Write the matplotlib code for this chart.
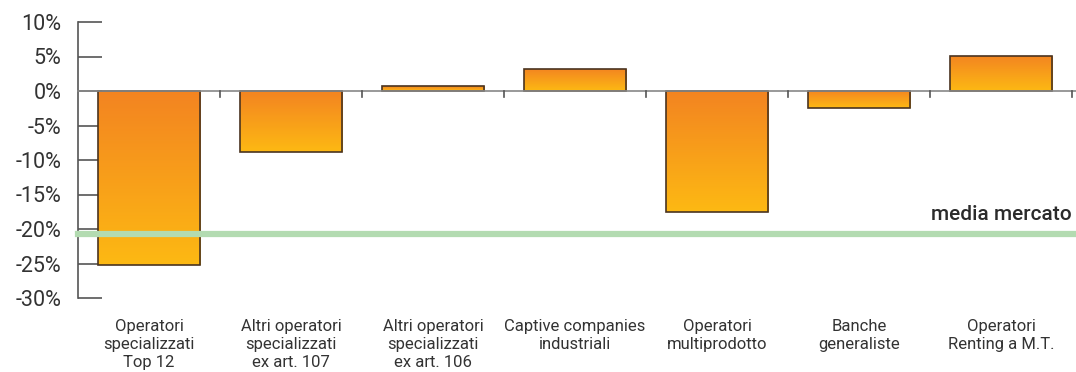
import numpy as np
import matplotlib
matplotlib.use("Agg")
import matplotlib.pyplot as plt
from matplotlib.colors import LinearSegmentedColormap

categories = ["Operatori\nspecializzati\nTop 12",
              "Altri operatori\nspecializzati\nex art. 107",
              "Altri operatori\nspecializzati\nex art. 106",
              "Captive companies\nindustriali",
              "Operatori\nmultiprodotto",
              "Banche\ngeneraliste",
              "Operatori\nRenting a M.T."]
values = [-25.2, -8.8, 0.7, 3.2, -17.5, -2.5, 5.1]
media_mercato = -20.7
yticks = [10, 5, 0, -5, -10, -15, -20, -25, -30]

plt.rcParams["font.family"] = ["Roboto", "DejaVu Sans"]

W, H = 1076, 372
fig = plt.figure(figsize=(W / 100, H / 100), dpi=100)
ax = fig.add_axes([78 / W, (H - 298) / H, 994 / W, 276 / H])

x = np.arange(len(categories)) + 0.5
grad = LinearSegmentedColormap.from_list("og", ["#fdb913", "#f38421"])
img = np.linspace(0, 1, 256).reshape(-1, 1)

bars = ax.bar(x, values, width=0.72, color="none", edgecolor="#4a3420", linewidth=1.2, zorder=3)
for b in bars:
    x0, y0 = b.get_x(), b.get_y()
    w, h = b.get_width(), b.get_height()
    lo, hi = min(y0, y0 + h), max(y0, y0 + h)
    im = ax.imshow(img, extent=[x0, x0 + w, lo, hi], origin="lower", cmap=grad,
                   aspect="auto", zorder=2)
    im.set_clip_path(b)

ax.set_xlim(0, len(categories))
ax.set_ylim(-30, 10)

# zero line with category separators
ax.axhline(0, color="#888888", linewidth=1.2, zorder=4, xmax=1.004, clip_on=False)
for i in range(1, len(categories) + 1):
    ax.plot([i, i], [0, -0.9], color="#555555", linewidth=1.2, clip_on=False, zorder=4)

# market average
ax.axhline(media_mercato, color="#b3dbb1", linewidth=4.5, xmax=1.004, clip_on=False, zorder=5)
ax.annotate("media mercato", xy=(len(categories), media_mercato), xytext=(0, 10),
            textcoords="offset points", ha="right", va="baseline",
            fontsize=15, fontweight="medium", color="#2b2b2b")

for s in ["top", "right", "bottom"]:
    ax.spines[s].set_visible(False)
ax.spines["left"].set_color("#555555")
ax.spines["left"].set_linewidth(1.2)

ax.set_yticks(yticks)
ax.set_yticklabels([f"{v}%" for v in yticks])
ax.tick_params(axis="y", direction="in", length=17, width=1.2, color="#555555",
               labelsize=15.5, labelcolor="#333333", pad=12)
ax.set_xticks(x)
ax.set_xticklabels(categories)
ax.tick_params(axis="x", length=0, labelsize=12, labelcolor="#333333", pad=15)
for t in ax.get_xticklabels():
    t.set_linespacing(1.25)

fig.savefig("out.png", dpi=100)
